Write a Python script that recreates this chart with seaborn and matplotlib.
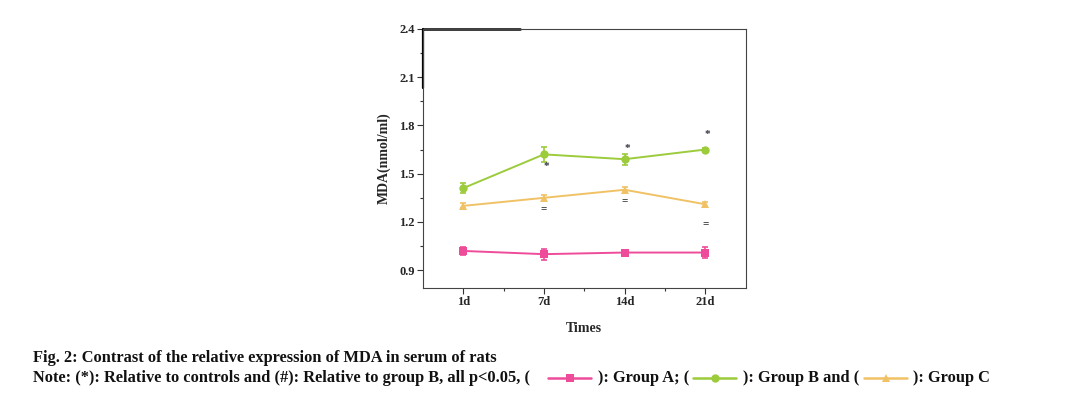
import matplotlib
matplotlib.use("Agg")
import matplotlib.pyplot as plt
from matplotlib.lines import Line2D
from matplotlib.ticker import MultipleLocator, FixedLocator
import seaborn as sns
import pandas as pd
import numpy as np

times = ["1d", "7d", "14d", "21d"]
groups = ["Group A", "Group B", "Group C"]
group_a = [1.02, 1.00, 1.01, 1.01]
group_a_err = [0.025, 0.035, 0.01, 0.035]
group_b = [1.41, 1.62, 1.59, 1.65]
group_b_err = [0.03, 0.045, 0.035, 0.01]
group_c = [1.30, 1.35, 1.40, 1.31]
group_c_err = [0.015, 0.02, 0.015, 0.015]
star_times = ["7d", "14d", "21d"]
star_y = [1.545, 1.655, 1.745]
hash_times = ["7d", "14d", "21d"]
hash_y = [1.285, 1.335, 1.19]
yticks = [0.9, 1.2, 1.5, 1.8, 2.1, 2.4]

colors = {"Group A": "#EE4C9A", "Group B": "#9CCB3B", "Group C": "#F0C265"}
markers = {"Group A": "s", "Group B": "o", "Group C": "^"}

values = [group_a, group_b, group_c]
errs = [group_a_err, group_b_err, group_c_err]
df = pd.DataFrame({
    "Times": times * 3,
    "MDA": group_a + group_b + group_c,
    "err": group_a_err + group_b_err + group_c_err,
    "Group": sum([[g] * 4 for g in groups], []),
})

sns.set_theme(style="white")
plt.rcParams["font.family"] = ["Liberation Serif", "DejaVu Serif"]
plt.rcParams["font.weight"] = "bold"

fig = plt.figure(figsize=(10.76, 3.95), dpi=100)
ax = fig.add_axes([0.393, 0.271, 0.3, 0.656])

sns.lineplot(data=df, x="Times", y="MDA", hue="Group", style="Group",
             palette=colors, markers=markers, dashes=False, errorbar=None,
             markersize=6, markeredgewidth=0, linewidth=1.4, legend=False, ax=ax, sort=False)
xpos = np.arange(len(times))
for g, v, e in zip(groups, values, errs):
    ax.errorbar(xpos, v, yerr=e, fmt="none", ecolor=colors[g], elinewidth=1.2,
                capsize=2.5, capthick=1.2)

for t, y in zip(star_times, star_y):
    ax.text(times.index(t) + 0.03, y, "*", ha="center", va="center", fontsize=8, color="#333344")
for t, y in zip(hash_times, hash_y):
    ax.text(times.index(t), y, "=", ha="center", va="center", fontsize=8, color="#222222")

ax.set_xlim(-0.5, 3.5)
ax.set_ylim(0.79, 2.4)
ax.set_yticks(yticks)
ax.yaxis.set_minor_locator(MultipleLocator(0.15))
ax.xaxis.set_minor_locator(FixedLocator([0.5, 1.5, 2.5]))
ax.tick_params(axis="both", which="major", direction="out", length=4, width=0.8,
               color="#333333", labelsize=9, pad=2, left=True, bottom=True)
ax.tick_params(axis="both", which="minor", direction="out", length=2.5, width=0.8,
               color="#333333", left=True, bottom=True)
for lab in ax.get_xticklabels() + ax.get_yticklabels():
    lab.set_fontweight("bold")
ax.set_xlabel("Times", fontsize=10, fontweight="bold", labelpad=10)
ax.set_ylabel("MDA(nmol/ml)", fontsize=10, fontweight="bold", labelpad=6)
for sp in ax.spines.values():
    sp.set_visible(True)
    sp.set_color("#444444")
    sp.set_linewidth(0.8)
# thick artifact segments at top-left corner
ax.plot([0, 0.3], [1, 1], transform=ax.transAxes, color="black", lw=1.8, clip_on=False)
ax.plot([0, 0], [0.77, 1], transform=ax.transAxes, color="black", lw=1.6, clip_on=False)

# caption
fs = 11.8
W, H = 1076, 395
fig.text(33 / W, 1 - 358 / H, "Fig. 2: Contrast of the relative expression of MDA in serum of rats",
         fontsize=fs, fontweight="bold", va="center", ha="left", color="#111111")
ycap = 1 - 378 / H
fig.text(33 / W, ycap, "Note: (*): Relative to controls and (#): Relative to group B, all p<0.05, (",
         fontsize=fs, fontweight="bold", va="center", ha="left", color="#111111")
segs = [(548, 591), (693, 736), (864, 907)]
for g, (x0, x1) in zip(groups, segs):
    fig.add_artist(Line2D([x0 / W, x1 / W], [ycap, ycap], color=colors[g], lw=1.8,
                          transform=fig.transFigure))
    fig.add_artist(Line2D([(x0 + x1) / 2 / W], [ycap], color=colors[g], marker=markers[g],
                          markersize=6, markeredgewidth=0, transform=fig.transFigure))
fig.text(598 / W, ycap, "): Group A; (", fontsize=fs, fontweight="bold", va="center", ha="left", color="#111111")
fig.text(743 / W, ycap, "): Group B and (", fontsize=fs, fontweight="bold", va="center", ha="left", color="#111111")
fig.text(913 / W, ycap, "): Group C", fontsize=fs, fontweight="bold", va="center", ha="left", color="#111111")

fig.savefig("out.png", dpi=100)
